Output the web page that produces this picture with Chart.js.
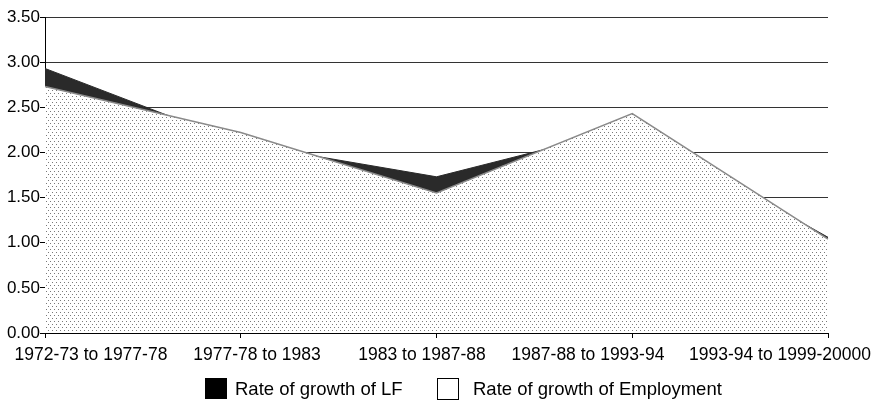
<!DOCTYPE html>
<html>
<head>
<meta charset="utf-8">
<script src="https://cdn.jsdelivr.net/npm/chart.js@4/dist/chart.umd.min.js"></script>
<style>
  html, body { margin: 0; padding: 0; background: #fff; }
  #wrap { width: 878px; height: 402px; }
</style>
</head>
<body>
<div id="wrap"><canvas id="c" width="878" height="402"></canvas></div>
<script>
const categories = ["1972-73 to 1977-78", "1977-78 to 1983", "1983 to 1987-88", "1987-88 to 1993-94", "1993-94 to 1999-20000"];
const lfGrowth = [2.93, 2.10, 1.73, 2.28, 1.06];
const employmentGrowth = [2.73, 2.22, 1.55, 2.43, 1.04];
const seriesNames = ["Rate of growth of LF", "Rate of growth of Employment"];
const yTicks = [0, 0.5, 1, 1.5, 2, 2.5, 3, 3.5];

// dotted fill pattern
const pc = document.createElement('canvas');
pc.width = 4; pc.height = 6;
const pctx = pc.getContext('2d');
pctx.fillStyle = '#fff'; pctx.fillRect(0, 0, 4, 6);
pctx.fillStyle = '#7a7a7a';
pctx.fillRect(0, 0, 1, 1);
pctx.fillRect(2, 3, 1, 1);
const dotPattern = document.getElementById('c').getContext('2d').createPattern(pc, 'repeat');

const FONT = '"Liberation Sans", Arial, sans-serif';

const bgPlugin = {
  id: 'bg',
  beforeDraw(chart) {
    const ctx = chart.ctx;
    ctx.save();
    ctx.fillStyle = '#fff';
    ctx.fillRect(0, 0, chart.width, chart.height);
    ctx.restore();
  }
};

// category labels and legend (layout only)
const textPlugin = {
  id: 'texts',
  afterDraw(chart) {
    const ctx = chart.ctx;
    ctx.save();
    ctx.fillStyle = '#000';
    ctx.font = '17.5px ' + FONT;
    ctx.textAlign = 'center';
    ctx.textBaseline = 'alphabetic';
    const labelX = [91, 257, 422, 588, 780];
    categories.forEach((c, i) => ctx.fillText(c, labelX[i], 360));

    // legend
    ctx.font = '18.5px ' + FONT;
    ctx.textAlign = 'left';
    // LF
    ctx.fillStyle = '#000';
    ctx.fillRect(205, 378, 22, 21);
    ctx.fillText(seriesNames[0], 235, 395);
    // Employment
    ctx.fillStyle = '#fff';
    ctx.fillRect(437, 378, 21, 21);
    ctx.strokeStyle = '#000';
    ctx.lineWidth = 1;
    ctx.strokeRect(437.5, 378.5, 21, 21);
    ctx.fillStyle = '#000';
    ctx.fillText(seriesNames[1], 473, 395);
    ctx.restore();
  }
};

new Chart(document.getElementById('c'), {
  type: 'line',
  data: {
    labels: categories,
    datasets: [
      {
        label: seriesNames[0],
        data: lfGrowth,
        borderColor: '#2a2a2a',
        backgroundColor: '#2a2a2a',
        borderWidth: 1,
        fill: 'origin',
        pointRadius: 0,
        tension: 0,
        order: 2
      },
      {
        label: seriesNames[1],
        data: employmentGrowth,
        borderColor: '#8a8a8a',
        backgroundColor: dotPattern,
        borderWidth: 1.5,
        fill: 'origin',
        pointRadius: 0,
        tension: 0,
        order: 1
      }
    ]
  },
  options: {
    responsive: false,
    devicePixelRatio: 1,
    animation: false,
    layout: { padding: { top: 17, right: 50, bottom: 0, left: 0 } },
    plugins: {
      legend: { display: false },
      tooltip: { enabled: false },
      filler: { propagate: false }
    },
    scales: {
      x: {
        type: 'category',
        offset: false,
        ticks: { display: false },
        grid: { display: true, drawOnChartArea: false, drawTicks: true, tickLength: 5, tickColor: '#000', color: '#000' },
        border: { display: true, color: '#000', width: 1 },
        afterFit(scale) { scale.height = 69; }
      },
      y: {
        min: 0,
        max: 3.5,
        afterBuildTicks(scale) { scale.ticks = yTicks.map(v => ({ value: v })); },
        ticks: {
          color: '#000',
          font: { family: FONT, size: 17 },
          padding: 0,
          callback: (v) => Number(v).toFixed(2)
        },
        grid: { color: '#333', lineWidth: 1, tickLength: 5, tickColor: '#000' },
        border: { display: true, color: '#000', width: 1 },
        afterFit(scale) { scale.width = 45; }
      }
    }
  },
  plugins: [bgPlugin, textPlugin]
});
</script>
</body>
</html>
